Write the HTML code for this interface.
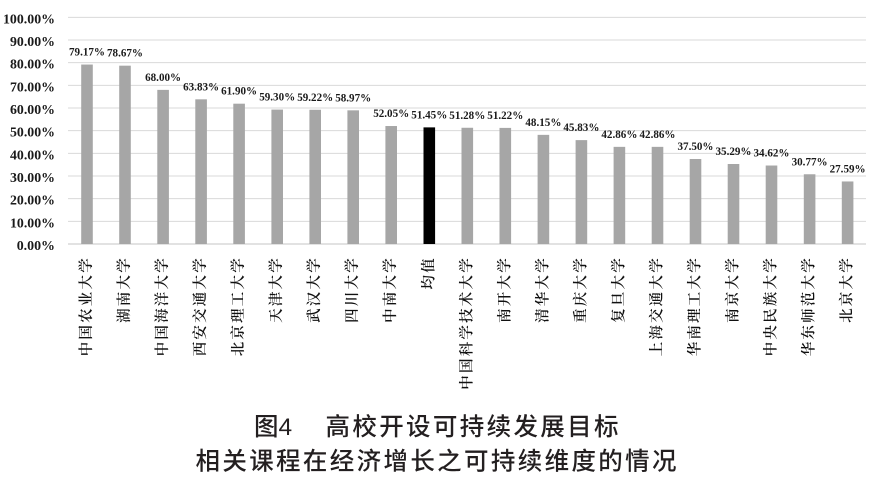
<!DOCTYPE html>
<html>
<head>
<meta charset="utf-8">
<style>
  html,body{margin:0;padding:0;background:#fff;}
  svg{display:block;}
  .yl{font-family:"Liberation Serif",serif;font-weight:bold;font-size:14px;fill:#1a1a1a;}
  .dl{font-family:"Liberation Serif",serif;font-weight:bold;font-size:12px;fill:#1a1a1a;}
  .xl{font-family:"Liberation Serif","Noto Serif CJK SC",serif;font-size:14.5px;font-weight:600;fill:#111;}
  .cap{font-family:"Liberation Sans","Noto Sans CJK SC",sans-serif;font-size:24.5px;font-weight:500;fill:#231f20;}
</style>
</head>
<body>
<svg width="870" height="478" viewBox="0 0 870 478" xmlns="http://www.w3.org/2000/svg">
<rect x="0" y="0" width="870" height="478" fill="#fff"/>
<!-- gridlines -->
<g stroke="#d9d9d9" stroke-width="1">
<line x1="68" x2="866" y1="17.33" y2="17.33"/>
<line x1="68" x2="866" y1="40" y2="40"/>
<line x1="68" x2="866" y1="62.67" y2="62.67"/>
<line x1="68" x2="866" y1="85.33" y2="85.33"/>
<line x1="68" x2="866" y1="108" y2="108"/>
<line x1="68" x2="866" y1="130.67" y2="130.67"/>
<line x1="68" x2="866" y1="153.33" y2="153.33"/>
<line x1="68" x2="866" y1="176" y2="176"/>
<line x1="68" x2="866" y1="198.67" y2="198.67"/>
<line x1="68" x2="866" y1="221.33" y2="221.33"/>
</g>
<line x1="68" x2="866" y1="244" y2="244" stroke="#d0d0d0" stroke-width="1.2"/>
<!-- y labels -->
<g class="yl" text-anchor="end">
<text x="55" y="23.3" textLength="52" lengthAdjust="spacingAndGlyphs">100.00%</text>
<text x="55" y="46" textLength="45" lengthAdjust="spacingAndGlyphs">90.00%</text>
<text x="55" y="68.7" textLength="45" lengthAdjust="spacingAndGlyphs">80.00%</text>
<text x="55" y="91.3" textLength="45" lengthAdjust="spacingAndGlyphs">70.00%</text>
<text x="55" y="114" textLength="45" lengthAdjust="spacingAndGlyphs">60.00%</text>
<text x="55" y="136.7" textLength="45" lengthAdjust="spacingAndGlyphs">50.00%</text>
<text x="55" y="159.3" textLength="45" lengthAdjust="spacingAndGlyphs">40.00%</text>
<text x="55" y="182" textLength="45" lengthAdjust="spacingAndGlyphs">30.00%</text>
<text x="55" y="204.7" textLength="45" lengthAdjust="spacingAndGlyphs">20.00%</text>
<text x="55" y="227.3" textLength="45" lengthAdjust="spacingAndGlyphs">10.00%</text>
<text x="55" y="250" textLength="38.3" lengthAdjust="spacingAndGlyphs">0.00%</text>
</g>
<!-- bars -->
<g fill="#a6a6a6">
<rect x="81.2" y="64.54" width="11.6" height="179.46"/>
<rect x="119.2" y="65.68" width="11.6" height="178.32"/>
<rect x="157.3" y="89.87" width="11.6" height="154.13"/>
<rect x="195.3" y="99.32" width="11.6" height="144.68"/>
<rect x="233.3" y="103.69" width="11.6" height="140.31"/>
<rect x="271.4" y="109.59" width="11.6" height="134.41"/>
<rect x="309.4" y="109.77" width="11.6" height="134.23"/>
<rect x="347.4" y="110.33" width="11.6" height="133.67"/>
<rect x="385.4" y="126.02" width="11.6" height="117.98"/>
<rect x="461.5" y="127.77" width="11.6" height="116.23"/>
<rect x="499.5" y="127.9" width="11.6" height="116.1"/>
<rect x="537.6" y="134.86" width="11.6" height="109.14"/>
<rect x="575.6" y="140.12" width="11.6" height="103.88"/>
<rect x="613.6" y="146.85" width="11.6" height="97.15"/>
<rect x="651.7" y="146.85" width="11.6" height="97.15"/>
<rect x="689.7" y="159" width="11.6" height="85"/>
<rect x="727.7" y="164.01" width="11.6" height="79.99"/>
<rect x="765.7" y="165.53" width="11.6" height="78.47"/>
<rect x="803.8" y="174.26" width="11.6" height="69.74"/>
<rect x="841.8" y="181.46" width="11.6" height="62.54"/>
</g>
<rect x="423.5" y="127.38" width="11.6" height="116.62" fill="#000"/>
<!-- data labels -->
<g class="dl" text-anchor="middle">
<text x="87" y="55.5" textLength="36" lengthAdjust="spacingAndGlyphs">79.17%</text>
<text x="125" y="56.7" textLength="36" lengthAdjust="spacingAndGlyphs">78.67%</text>
<text x="163.1" y="80.9" textLength="36" lengthAdjust="spacingAndGlyphs">68.00%</text>
<text x="201.1" y="90.3" textLength="36" lengthAdjust="spacingAndGlyphs">63.83%</text>
<text x="239.1" y="94.7" textLength="36" lengthAdjust="spacingAndGlyphs">61.90%</text>
<text x="277.2" y="100.6" textLength="36" lengthAdjust="spacingAndGlyphs">59.30%</text>
<text x="315.2" y="100.8" textLength="36" lengthAdjust="spacingAndGlyphs">59.22%</text>
<text x="353.2" y="101.3" textLength="36" lengthAdjust="spacingAndGlyphs">58.97%</text>
<text x="391.2" y="117" textLength="36" lengthAdjust="spacingAndGlyphs">52.05%</text>
<text x="429.3" y="118.4" textLength="36" lengthAdjust="spacingAndGlyphs">51.45%</text>
<text x="467.3" y="118.8" textLength="36" lengthAdjust="spacingAndGlyphs">51.28%</text>
<text x="505.3" y="118.9" textLength="36" lengthAdjust="spacingAndGlyphs">51.22%</text>
<text x="543.4" y="125.9" textLength="36" lengthAdjust="spacingAndGlyphs">48.15%</text>
<text x="581.4" y="131.1" textLength="36" lengthAdjust="spacingAndGlyphs">45.83%</text>
<text x="619.4" y="137.9" textLength="36" lengthAdjust="spacingAndGlyphs">42.86%</text>
<text x="657.5" y="137.9" textLength="36" lengthAdjust="spacingAndGlyphs">42.86%</text>
<text x="695.5" y="150" textLength="36" lengthAdjust="spacingAndGlyphs">37.50%</text>
<text x="733.5" y="155" textLength="36" lengthAdjust="spacingAndGlyphs">35.29%</text>
<text x="771.5" y="156.5" textLength="36" lengthAdjust="spacingAndGlyphs">34.62%</text>
<text x="809.6" y="165.3" textLength="36" lengthAdjust="spacingAndGlyphs">30.77%</text>
<text x="847.6" y="172.5" textLength="36" lengthAdjust="spacingAndGlyphs">27.59%</text>
</g>
<!-- x labels (rotated) -->
<g class="xl" dominant-baseline="central">
<text transform="translate(87,356.3) rotate(-90)" textLength="98" lengthAdjust="spacing">中国农业大学</text>
<text transform="translate(125,322.9) rotate(-90)" textLength="64.6" lengthAdjust="spacing">湖南大学</text>
<text transform="translate(163.1,356.3) rotate(-90)" textLength="98" lengthAdjust="spacing">中国海洋大学</text>
<text transform="translate(201.1,356.3) rotate(-90)" textLength="98" lengthAdjust="spacing">西安交通大学</text>
<text transform="translate(239.1,356.3) rotate(-90)" textLength="98" lengthAdjust="spacing">北京理工大学</text>
<text transform="translate(277.2,322.9) rotate(-90)" textLength="64.6" lengthAdjust="spacing">天津大学</text>
<text transform="translate(315.2,322.9) rotate(-90)" textLength="64.6" lengthAdjust="spacing">武汉大学</text>
<text transform="translate(353.2,322.9) rotate(-90)" textLength="64.6" lengthAdjust="spacing">四川大学</text>
<text transform="translate(391.2,322.9) rotate(-90)" textLength="64.6" lengthAdjust="spacing">中南大学</text>
<text transform="translate(429.3,289.5) rotate(-90)" textLength="31.2" lengthAdjust="spacing">均值</text>
<text transform="translate(467.3,389.7) rotate(-90)" textLength="131.4" lengthAdjust="spacing">中国科学技术大学</text>
<text transform="translate(505.3,322.9) rotate(-90)" textLength="64.6" lengthAdjust="spacing">南开大学</text>
<text transform="translate(543.4,322.9) rotate(-90)" textLength="64.6" lengthAdjust="spacing">清华大学</text>
<text transform="translate(581.4,322.9) rotate(-90)" textLength="64.6" lengthAdjust="spacing">重庆大学</text>
<text transform="translate(619.4,322.9) rotate(-90)" textLength="64.6" lengthAdjust="spacing">复旦大学</text>
<text transform="translate(657.5,356.3) rotate(-90)" textLength="98" lengthAdjust="spacing">上海交通大学</text>
<text transform="translate(695.5,356.3) rotate(-90)" textLength="98" lengthAdjust="spacing">华南理工大学</text>
<text transform="translate(733.5,322.9) rotate(-90)" textLength="64.6" lengthAdjust="spacing">南京大学</text>
<text transform="translate(771.5,356.3) rotate(-90)" textLength="98" lengthAdjust="spacing">中央民族大学</text>
<text transform="translate(809.6,356.3) rotate(-90)" textLength="98" lengthAdjust="spacing">华东师范大学</text>
<text transform="translate(847.6,322.9) rotate(-90)" textLength="64.6" lengthAdjust="spacing">北京大学</text>
</g>
<!-- caption -->
<g class="cap">
<text x="254" y="435">图4</text>
<text x="325.5" y="435" textLength="293" lengthAdjust="spacing">高校开设可持续发展目标</text>
<text x="195.5" y="469.5" textLength="481" lengthAdjust="spacing">相关课程在经济增长之可持续维度的情况</text>
</g>
</svg>
</body>
</html>
